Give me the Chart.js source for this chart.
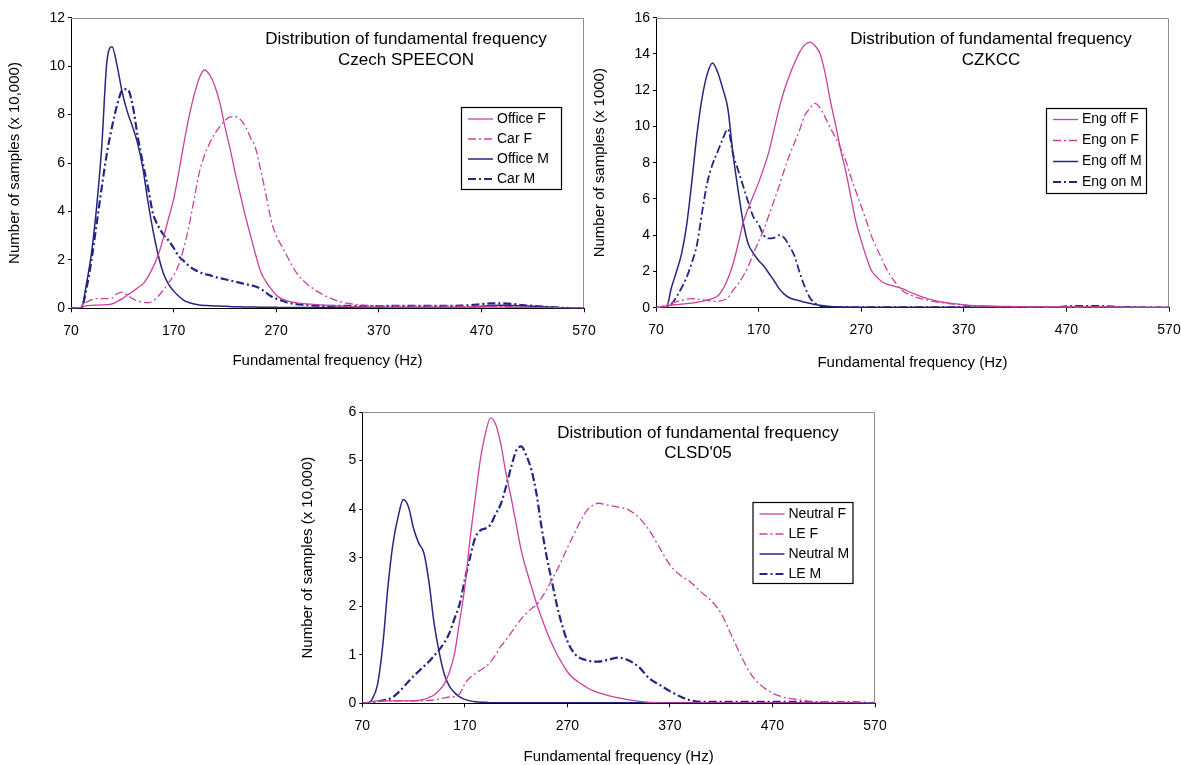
<!DOCTYPE html>
<html>
<head>
<meta charset="utf-8">
<script src="https://cdn.jsdelivr.net/npm/chart.js@4.4.0/dist/chart.umd.min.js"></script>
<style>
  html, body { margin: 0; padding: 0; background: #fff; overflow: hidden; width: 1181px; height: 765px; }
  canvas { position: absolute; }
</style>
</head>
<body>
<canvas id="c1" width="600" height="380" style="left:0px;top:0px"></canvas>
<canvas id="c2" width="609" height="380" style="left:580px;top:0px"></canvas>
<canvas id="c3" width="605" height="385" style="left:290px;top:380px"></canvas>
<script>
// Frequency grid (Hz): 5 Hz steps up to 300, 10 Hz steps above
const FREQ = [70,75,80,85,90,95,100,105,110,115,
  120,125,130,135,140,145,150,155,160,165,
  170,175,180,185,190,195,200,205,210,215,
  220,225,230,235,240,245,250,255,260,265,
  270,275,280,285,290,295,300,
  310,320,330,340,350,360,370,380,390,400,
  410,420,430,440,450,460,470,480,490,500,
  510,520,530,540,550,560,570];

const X_TICKS = [70,170,270,370,470,570];

// Czech SPEECON (x 10,000 samples)
const officeF = [0,0,0.05,0.1,0.12,0.13,0.14,0.15,0.18,0.28,
  0.4,0.55,0.68,0.85,1.0,1.3,1.7,2.2,2.9,3.7,
  4.5,5.6,6.8,7.9,8.8,9.5,9.84,9.65,9.2,8.5,
  7.5,6.6,5.6,4.7,3.8,3.0,2.2,1.5,1.1,0.8,
  0.55,0.4,0.32,0.26,0.22,0.2,0.18,
  0.15,0.12,0.1,0.08,0.06,0.05,0.05,0.04,0.04,0.04,
  0.04,0.04,0.04,0.04,0.04,0.04,0.05,0.05,0.05,0.04,
  0.03,0.03,0.02,0.02,0.01,0.01,0];
const carF = [0,0,0.1,0.25,0.35,0.4,0.4,0.4,0.42,0.6,
  0.67,0.55,0.4,0.3,0.25,0.23,0.3,0.5,0.75,1.05,
  1.35,1.8,2.5,3.4,4.5,5.6,6.3,6.8,7.2,7.5,
  7.75,7.9,7.92,7.8,7.5,7.05,6.6,5.7,4.7,3.65,
  3.0,2.6,2.2,1.8,1.45,1.2,1.0,
  0.7,0.47,0.3,0.2,0.15,0.12,0.1,0.1,0.09,0.09,
  0.09,0.09,0.09,0.09,0.08,0.08,0.08,0.08,0.07,0.07,
  0.06,0.05,0.04,0.03,0.02,0.01,0];
const officeM = [0,0,0,1.0,2.3,4.2,6.7,10.2,10.8,10.0,
  8.9,8.1,7.5,6.8,5.8,4.4,3.2,2.2,1.45,1.0,
  0.72,0.5,0.33,0.24,0.18,0.14,0.12,0.11,0.1,0.09,
  0.08,0.07,0.06,0.06,0.05,0.05,0.05,0.04,0.04,0.04,
  0.04,0.03,0.03,0.03,0.03,0.03,0.03,
  0.03,0.03,0.03,0.03,0.03,0.03,0.03,0.03,0.03,0.03,
  0.03,0.03,0.03,0.03,0.03,0.04,0.08,0.12,0.13,0.12,
  0.1,0.08,0.06,0.04,0.02,0.01,0];
const carM = [0,0,0,0.8,2.0,3.5,5.0,6.4,7.5,8.4,
  9.0,9.05,8.4,7.1,6.0,5.0,3.9,3.4,3.05,2.8,
  2.5,2.15,1.95,1.75,1.6,1.5,1.42,1.37,1.3,1.25,
  1.2,1.15,1.1,1.05,1.0,0.95,0.9,0.8,0.65,0.5,
  0.4,0.32,0.25,0.2,0.17,0.15,0.13,
  0.11,0.1,0.1,0.1,0.09,0.09,0.09,0.1,0.1,0.1,
  0.1,0.1,0.1,0.1,0.11,0.13,0.17,0.2,0.2,0.18,
  0.13,0.1,0.07,0.04,0.02,0.01,0];

// CZKCC (x 1000 samples)
const engOffF = [0,0.05,0.1,0.15,0.17,0.2,0.22,0.25,0.3,0.35,
  0.42,0.5,0.65,1.0,1.6,2.4,3.5,4.7,5.5,6.2,
  6.9,7.7,8.6,9.8,11.0,12.0,12.8,13.5,14.1,14.5,
  14.65,14.45,14.0,12.9,11.4,10.1,8.7,7.5,6.1,4.7,
  3.7,2.8,2.05,1.7,1.45,1.3,1.22,
  1.05,0.8,0.58,0.42,0.3,0.22,0.16,0.12,0.1,0.08,
  0.07,0.06,0.05,0.05,0.04,0.04,0.04,0.04,0.03,0.03,
  0.03,0.03,0.02,0.02,0.02,0.02,0.02];
const engOnF = [0,0.05,0.15,0.25,0.33,0.4,0.47,0.5,0.48,0.43,
  0.4,0.36,0.35,0.4,0.55,0.95,1.3,1.75,2.3,3.0,
  3.65,4.3,5.1,5.9,6.7,7.6,8.4,9.1,9.8,10.6,
  11.0,11.27,11.0,10.5,9.9,9.4,8.8,8.1,7.2,6.4,
  5.6,4.8,3.95,3.3,2.7,2.1,1.65,
  0.95,0.65,0.47,0.35,0.27,0.2,0.15,0.1,0.08,0.06,
  0.05,0.05,0.04,0.04,0.04,0.04,0.04,0.04,0.03,0.03,
  0.03,0.02,0.02,0.02,0.02,0.01,0.01];
const engOffM = [0,0,0,1.1,2.0,3.0,4.6,7.0,9.6,11.6,
  12.9,13.5,13.0,12.1,11.0,8.5,6.5,4.7,3.5,3.0,
  2.6,2.3,1.9,1.5,1.05,0.75,0.55,0.45,0.38,0.3,
  0.24,0.18,0.14,0.1,0.07,0.05,0.04,0.04,0.03,0.03,
  0.03,0.03,0.02,0.02,0.02,0.02,0.02,
  0.02,0.02,0.02,0.02,0.02,0.02,0.02,0.02,0.02,0.02,
  0.02,0.02,0.02,0.02,0.02,0.02,0.02,0.02,0.02,0.02,
  0.02,0.02,0.02,0.02,0.01,0.01,0.01];
const engOnM = [0,0,0,0.2,0.6,1.1,1.7,2.5,3.5,5.3,
  6.9,7.9,8.6,9.3,9.85,8.5,7.6,6.7,5.8,5.0,
  4.6,4.0,3.82,3.85,4.0,3.85,3.4,2.85,1.95,1.15,
  0.55,0.25,0.1,0.06,0.04,0.03,0.03,0.03,0.03,0.03,
  0.03,0.03,0.03,0.03,0.03,0.03,0.03,
  0.03,0.03,0.03,0.03,0.03,0.03,0.03,0.03,0.03,0.03,
  0.03,0.03,0.03,0.03,0.03,0.04,0.08,0.1,0.1,0.1,
  0.08,0.05,0.04,0.03,0.02,0.01,0];

// CLSD'05 (x 10,000 samples)
const neutralF = [0,0.02,0.04,0.05,0.05,0.05,0.05,0.05,0.05,0.05,
  0.05,0.06,0.08,0.12,0.17,0.27,0.4,0.65,1.03,1.7,
  2.4,3.37,4.2,5.0,5.55,5.88,5.75,5.35,4.75,4.25,
  3.7,3.15,2.75,2.4,2.05,1.75,1.47,1.22,1.0,0.82,
  0.65,0.53,0.45,0.38,0.31,0.26,0.22,
  0.16,0.11,0.07,0.04,0.02,0.01,0.01,0.01,0.01,0.01,
  0.01,0.01,0.01,0.01,0.01,0.01,0.01,0.01,0.01,0.01,
  0.01,0.01,0.01,0.01,0.01,0,0];
const leF = [0,0,0.02,0.04,0.05,0.05,0.05,0.05,0.05,0.05,
  0.05,0.05,0.05,0.06,0.07,0.09,0.11,0.13,0.14,0.2,
  0.4,0.53,0.61,0.68,0.75,0.85,1.0,1.17,1.3,1.45,
  1.6,1.74,1.85,1.95,2.03,2.18,2.35,2.55,2.75,2.97,
  3.2,3.42,3.64,3.84,4.0,4.08,4.12,
  4.08,4.04,3.98,3.82,3.56,3.2,2.85,2.64,2.5,2.3,
  2.12,1.85,1.4,0.95,0.57,0.35,0.21,0.13,0.09,0.06,
  0.04,0.03,0.02,0.02,0.01,0,0];
const neutralM = [0,0,0.1,0.4,1.2,2.4,3.3,3.85,4.2,4.05,
  3.6,3.3,3.1,2.5,1.65,1.05,0.6,0.35,0.22,0.13,
  0.08,0.05,0.03,0.02,0.02,0.01,0.01,0.01,0.01,0.01,
  0.01,0.01,0.01,0.01,0.01,0.01,0.01,0.01,0.01,0.01,
  0.01,0.01,0.01,0.01,0.01,0.01,0.01,
  0.01,0.01,0.01,0.01,0.01,0.01,0.01,0.01,0.01,0.01,
  0.01,0.01,0.01,0.01,0.01,0.01,0.01,0.01,0.01,0.01,
  0.01,0.01,0.01,0.01,0.01,0,0];
const leM = [0,0,0.02,0.04,0.06,0.08,0.13,0.22,0.33,0.45,
  0.56,0.66,0.76,0.86,0.98,1.1,1.25,1.45,1.75,2.05,
  2.55,3.0,3.4,3.56,3.6,3.68,3.9,4.1,4.45,4.85,
  5.2,5.29,5.1,4.8,4.3,3.6,3.0,2.5,2.0,1.6,
  1.28,1.08,0.96,0.91,0.88,0.86,0.86,
  0.9,0.94,0.88,0.74,0.51,0.38,0.25,0.14,0.06,0.03,
  0.03,0.03,0.03,0.03,0.03,0.03,0.03,0.03,0.03,0.03,
  0.02,0.02,0.02,0.02,0.02,0.01,0];

const FONT = "'Liberation Sans', Arial, sans-serif";
const PINK = '#c8419f';
const NAVY = '#262680';
const DASHDOT = [8, 3, 2, 3];
const X_TITLE = 'Fundamental frequency (Hz)';
const MAIN_TITLE = 'Distribution of fundamental frequency';

Chart.defaults.font.family = FONT;
Chart.defaults.color = '#000';

function series(label, values, color, dashed, width) {
  return {
    label,
    data: FREQ.map((f, i) => ({ x: f, y: values[i] })),
    borderColor: color,
    borderWidth: width,
    borderDash: dashed ? DASHDOT : [],
    pointRadius: 0,
    fill: false,
    cubicInterpolationMode: 'monotone',
    tension: 0.4
  };
}

// Title, axis titles, in-plot legend and the grey plot frame
function decor(cfg) {
  return {
    id: 'decor',
    beforeDatasetsDraw(chart) {
      const ctx = chart.ctx, a = chart.chartArea;
      ctx.save();
      ctx.strokeStyle = '#8c8c8c';
      ctx.lineWidth = 1;
      ctx.beginPath();
      ctx.moveTo(a.left, Math.round(a.top) + 0.5);
      ctx.lineTo(Math.round(a.right) - 0.5, Math.round(a.top) + 0.5);
      ctx.lineTo(Math.round(a.right) - 0.5, a.bottom);
      ctx.stroke();
      ctx.restore();
    },
    afterDraw(chart) {
      const ctx = chart.ctx, a = chart.chartArea;
      ctx.save();
      ctx.fillStyle = '#000';
      ctx.textAlign = 'center';
      ctx.textBaseline = 'middle';
      ctx.font = '17px ' + FONT;
      cfg.title.forEach((t, i) => ctx.fillText(t, cfg.titleX, cfg.titleY[i]));
      ctx.font = '15px ' + FONT;
      ctx.fillText(X_TITLE, (a.left + a.right) / 2, cfg.xTitleY);
      ctx.save();
      ctx.translate(cfg.yTitleX, (a.top + a.bottom) / 2);
      ctx.rotate(-Math.PI / 2);
      ctx.fillText(cfg.yTitle, 0, 0);
      ctx.restore();

      const L = cfg.legend;
      ctx.fillStyle = '#fff';
      ctx.fillRect(L.x, L.y, L.w, L.h);
      ctx.strokeStyle = '#000';
      ctx.lineWidth = 1.2;
      ctx.strokeRect(L.x + 0.5, L.y + 0.5, L.w, L.h);
      ctx.font = '14px ' + FONT;
      chart.data.datasets.forEach((ds, i) => {
        const y = L.y + L.rows[i];
        ctx.strokeStyle = ds.borderColor;
        ctx.lineWidth = ds.borderWidth;
        ctx.setLineDash(ds.borderDash);
        ctx.beginPath();
        ctx.moveTo(L.x + 7, y);
        ctx.lineTo(L.x + 32, y);
        ctx.stroke();
        ctx.setLineDash([]);
        ctx.fillStyle = '#000';
        ctx.textAlign = 'left';
        ctx.fillText(ds.label, L.x + 36, y);
      });
      ctx.restore();
    }
  };
}

function makeChart(id, datasets, yMax, yStep, box, cfg) {
  return new Chart(document.getElementById(id), {
    type: 'line',
    data: { datasets },
    options: {
      responsive: false,
      animation: false,
      devicePixelRatio: 1,
      layout: { padding: { left: 0, top: box.top, right: box.right, bottom: box.bottom } },
      plugins: { legend: { display: false }, tooltip: { enabled: false } },
      scales: {
        x: {
          type: 'linear',
          min: 70, max: 570,
          afterBuildTicks: (s) => { s.ticks = X_TICKS.map(v => ({ value: v })); },
          afterFit: (s) => { s.height = 40; s.paddingLeft = 0; s.paddingRight = 0; },
          ticks: { font: { size: 14 }, color: '#000', padding: 10, maxRotation: 0 },
          grid: { drawOnChartArea: false, drawTicks: true, tickLength: 4, tickColor: '#000', color: '#000' },
          border: { color: '#000', width: 1 }
        },
        y: {
          min: 0, max: yMax,
          afterFit: (s) => { s.width = box.left; s.paddingTop = 0; s.paddingBottom = 0; },
          ticks: { stepSize: yStep, font: { size: 14 }, color: '#000', padding: 3 },
          grid: { drawOnChartArea: false, drawTicks: true, tickLength: 3, tickColor: '#000', color: '#000' },
          border: { color: '#000', width: 1 }
        }
      }
    },
    plugins: [decor(cfg)]
  });
}

makeChart('c1', [
  series('Office F', officeF, PINK, false, 1.3),
  series('Car F', carF, PINK, true, 1.3),
  series('Office M', officeM, NAVY, false, 1.5),
  series('Car M', carM, NAVY, true, 2.2)
], 12, 2, { left: 71, top: 17.7, right: 16, bottom: 31.7 }, {
  title: [MAIN_TITLE, 'Czech SPEECON'], titleX: 406, titleY: [39, 60],
  yTitle: 'Number of samples (x 10,000)', yTitleX: 15, xTitleY: 361,
  legend: { x: 461, y: 107, w: 100, h: 82, rows: [12, 32, 52, 72] }
});

makeChart('c2', [
  series('Eng off F', engOffF, PINK, false, 1.3),
  series('Eng on F', engOnF, PINK, true, 1.3),
  series('Eng off M', engOffM, NAVY, false, 1.5),
  series('Eng on M', engOnM, NAVY, true, 1.8)
], 16, 2, { left: 76, top: 17.7, right: 20, bottom: 32.3 }, {
  title: [MAIN_TITLE, 'CZKCC'], titleX: 411, titleY: [39, 60],
  yTitle: 'Number of samples (x 1000)', yTitleX: 20, xTitleY: 363,
  legend: { x: 466, y: 108, w: 100, h: 85, rows: [11.5, 32.5, 53.5, 74] }
});

makeChart('c3', [
  series('Neutral F', neutralF, PINK, false, 1.3),
  series('LE F', leF, PINK, true, 1.3),
  series('Neutral M', neutralM, NAVY, false, 1.5),
  series('LE M', leM, NAVY, true, 2.2)
], 6, 1, { left: 72.3, top: 32, right: 20, bottom: 21.7 }, {
  title: [MAIN_TITLE, "CLSD'05"], titleX: 408, titleY: [53, 73],
  yTitle: 'Number of samples (x 10,000)', yTitleX: 17.5, xTitleY: 376.7,
  legend: { x: 462.5, y: 122, w: 100, h: 81, rows: [12, 32, 52, 72] }
});
</script>
</body>
</html>
